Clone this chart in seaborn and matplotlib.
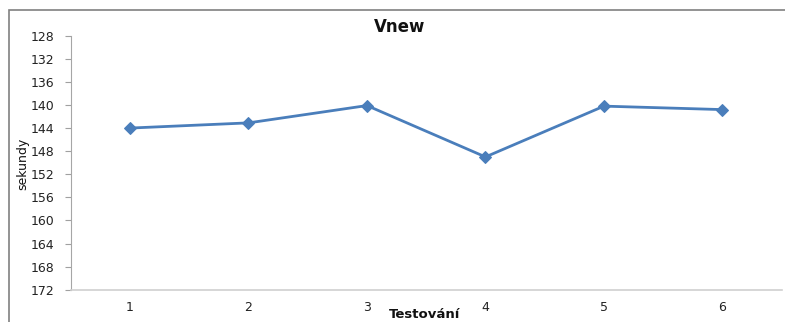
import matplotlib
matplotlib.use("Agg")
import matplotlib.pyplot as plt
import seaborn as sns
import pandas as pd
from matplotlib.patches import Rectangle

# Test runs and measured times (seconds)
tests = [1, 2, 3, 4, 5, 6]
times = [144.0, 143.1, 140.1, 149.0, 140.2, 140.8]
y_ticks = [128, 132, 136, 140, 144, 148, 152, 156, 160, 164, 168, 172]

df = pd.DataFrame({"Testování": tests, "sekundy": times})

sns.set_theme(style="white")
plt.rcParams["font.family"] = ["DejaVu Sans"]

fig = plt.figure(figsize=(7.85, 3.22), dpi=100)
ax = fig.add_axes([0.0901, 0.1003, 0.9057, 0.7888])

sns.lineplot(data=df, x="Testování", y="sekundy", ax=ax, color="#4A7EBB",
             linewidth=2, marker="D", markersize=6, markeredgecolor="#4A7EBB")

ax.set_xlim(0.5, 6.5)
ax.set_ylim(172, 128)
ax.set_yticks(y_ticks)
ax.set_xticks(tests)
ax.set_xticklabels([str(t) for t in tests])

ax.tick_params(axis="y", which="major", direction="out", length=4, width=0.8,
               color="#a0a0a0", labelsize=9, pad=8, left=True,
               labelcolor="#222222")
ax.tick_params(axis="x", which="major", length=0, labelsize=9, pad=8,
               labelcolor="#222222")

for side in ("top", "right"):
    ax.spines[side].set_visible(False)
ax.spines["left"].set_color("#a6a6a6")
ax.spines["left"].set_linewidth(0.8)
ax.spines["bottom"].set_color("#d0d0d0")
ax.spines["bottom"].set_linewidth(1.2)

ax.set_xlabel("")
ax.set_ylabel("")
fig.text(23 / 785, 1 - 164 / 322, "sekundy", rotation=90, ha="center", va="center",
         fontsize=9, color="#111111")
fig.text(425 / 785, 1 - 315 / 322, "Testování", ha="center", va="center",
         fontsize=9.5, fontweight="bold", color="#111111")
fig.text(400 / 785, 1 - 27 / 322, "Vnew", ha="center", va="center",
         fontsize=12, fontweight="bold", color="#111111")

# chart frame
fig.patches.append(Rectangle((9 / 785, -0.05), 1.2, 1 - 10 / 322 + 0.05,
                             transform=fig.transFigure, fill=False,
                             edgecolor="#808080", linewidth=1.2))

fig.savefig("out.png", dpi=100)
